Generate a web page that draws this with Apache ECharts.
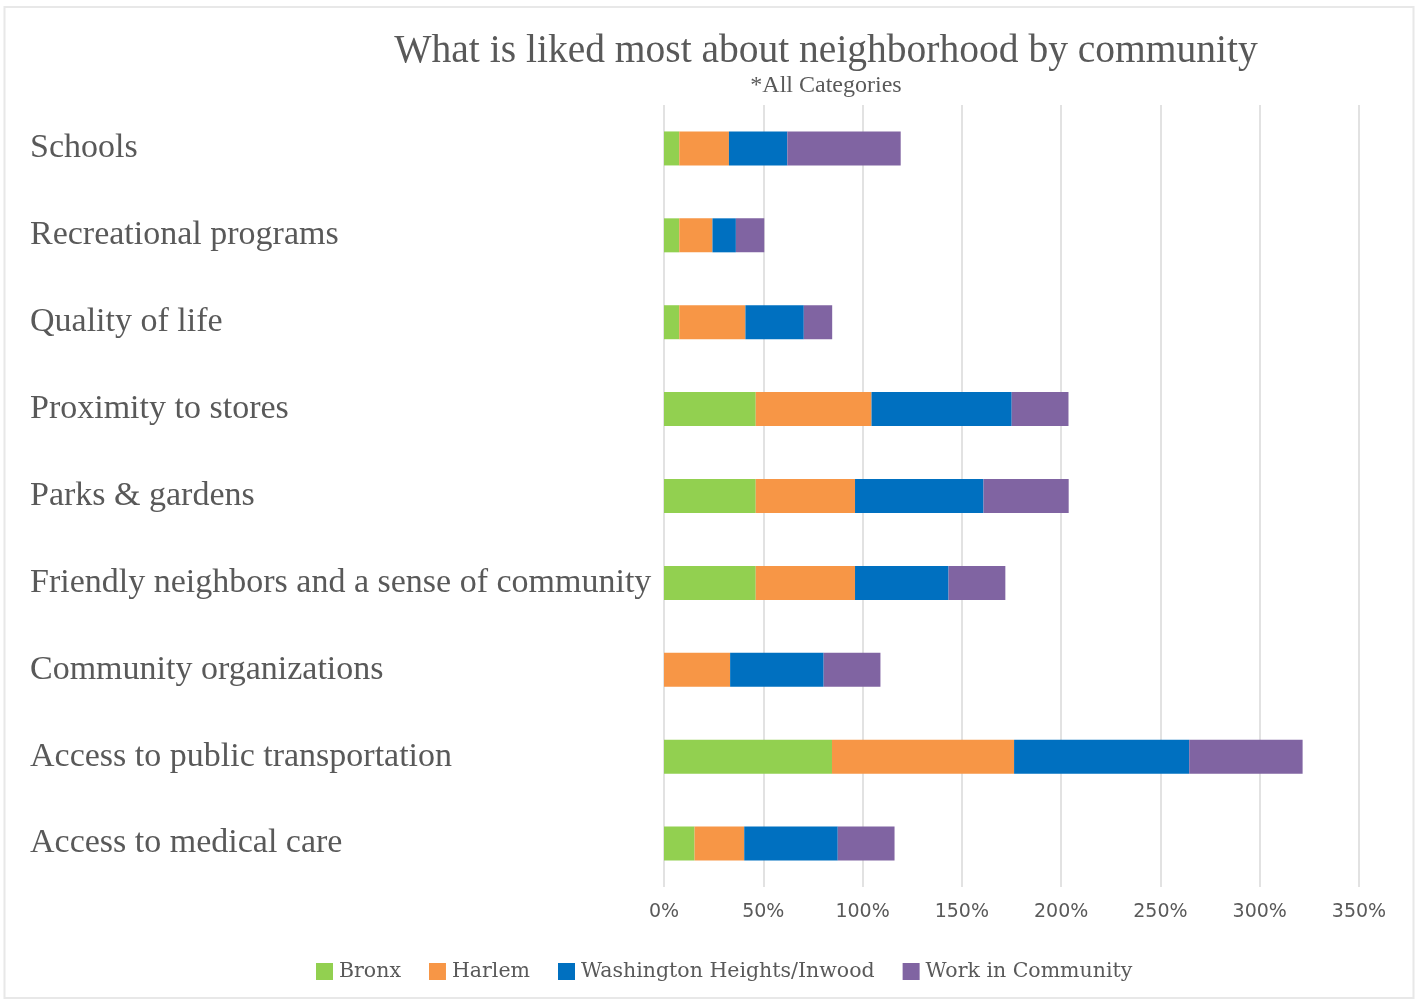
<!DOCTYPE html>
<html>
<head>
<meta charset="utf-8">
<script src="https://cdn.jsdelivr.net/npm/echarts@6/dist/echarts.min.js"></script>
<style>
  html, body { margin: 0; padding: 0; background: #ffffff; }
  #chart { width: 1417px; height: 1002px; }
</style>
</head>
<body>
<div id="chart"></div>
<script>
// ---- Data (percent values) ----
const categories = [
  "Schools",
  "Recreational programs",
  "Quality of life",
  "Proximity to stores",
  "Parks & gardens",
  "Friendly neighbors and a sense of community",
  "Community organizations",
  "Access to public transportation",
  "Access to medical care"
];
const seriesNames = ["Bronx", "Harlem", "Washington Heights/Inwood", "Work in Community"];
const bronx    = [7.7, 7.7, 7.7, 46.2, 46.2, 46.2, 0, 84.6, 15.4];
const harlem   = [25.0, 16.7, 33.3, 58.3, 50.0, 50.0, 33.3, 91.7, 25.0];
const washHts  = [29.4, 11.8, 29.4, 70.6, 64.7, 47.1, 47.1, 88.2, 47.1];
const workComm = [57.1, 14.3, 14.3, 28.6, 42.9, 28.6, 28.6, 57.1, 28.6];
const xTicks = [0, 50, 100, 150, 200, 250, 300, 350];

const colors = ["#92D050", "#F79646", "#0070C0", "#8064A2"];
const textColor = "#595959";

const chart = echarts.init(document.getElementById("chart"), null, { renderer: "canvas" });

const valuesList = [bronx, harlem, washHts, workComm];

const option = {
  animation: false,
  backgroundColor: "#ffffff",
  color: colors,
  title: [
    {
      text: "What is liked most about neighborhood by community",
      left: 821, top: 27, textAlign: "center",
      textStyle: { fontFamily: "Liberation Serif", fontSize: 39.5, fontWeight: "normal", color: textColor, lineHeight: 40 }
    },
    {
      text: "*All Categories",
      left: 821, top: 69, textAlign: "center",
      textStyle: { fontFamily: "Liberation Serif", fontSize: 24, fontWeight: "normal", color: textColor, lineHeight: 24 }
    }
  ],
  graphic: [
    {
      type: "rect", silent: true, z: -1,
      shape: { x: 4.5, y: 7, width: 1409, height: 991 },
      style: { fill: null, stroke: "#E8E8E8", lineWidth: 2 }
    }
  ],
  legend: {
    data: seriesNames,
    left: 311, top: 956,
    itemWidth: 17, itemHeight: 17, itemGap: 28,
    icon: "rect",
    textStyle: { fontFamily: "DejaVu Serif", fontSize: 20.5, color: textColor, padding: [0, 0, 0, 1] }
  },
  grid: { left: 664, right: 58, top: 105, bottom: 115, containLabel: false },
  xAxis: {
    type: "value",
    min: xTicks[0], max: xTicks[xTicks.length - 1], interval: 50,
    axisLine: { show: false },
    axisTick: { show: false },
    splitLine: { show: true, lineStyle: { color: "#D9D9D9", width: 1.5 } },
    axisLabel: {
      formatter: "{value}%", margin: 16,
      fontFamily: "DejaVu Sans", fontSize: 19, color: textColor
    }
  },
  yAxis: {
    type: "category",
    data: categories,
    inverse: true,
    axisLine: { show: false },
    axisTick: { show: false },
    splitLine: { show: false },
    axisLabel: {
      align: "left", margin: 634,
      lineHeight: 38,
      padding: [4, 0, 0, 0],
      fontFamily: "Liberation Serif", fontSize: 34, color: textColor
    }
  },
  series: seriesNames.map((name, i) => ({
    name: name,
    type: "bar",
    stack: "total",
    barWidth: 34,
    data: valuesList[i],
    itemStyle: { color: colors[i] }
  }))
};

chart.setOption(option);
</script>
</body>
</html>
